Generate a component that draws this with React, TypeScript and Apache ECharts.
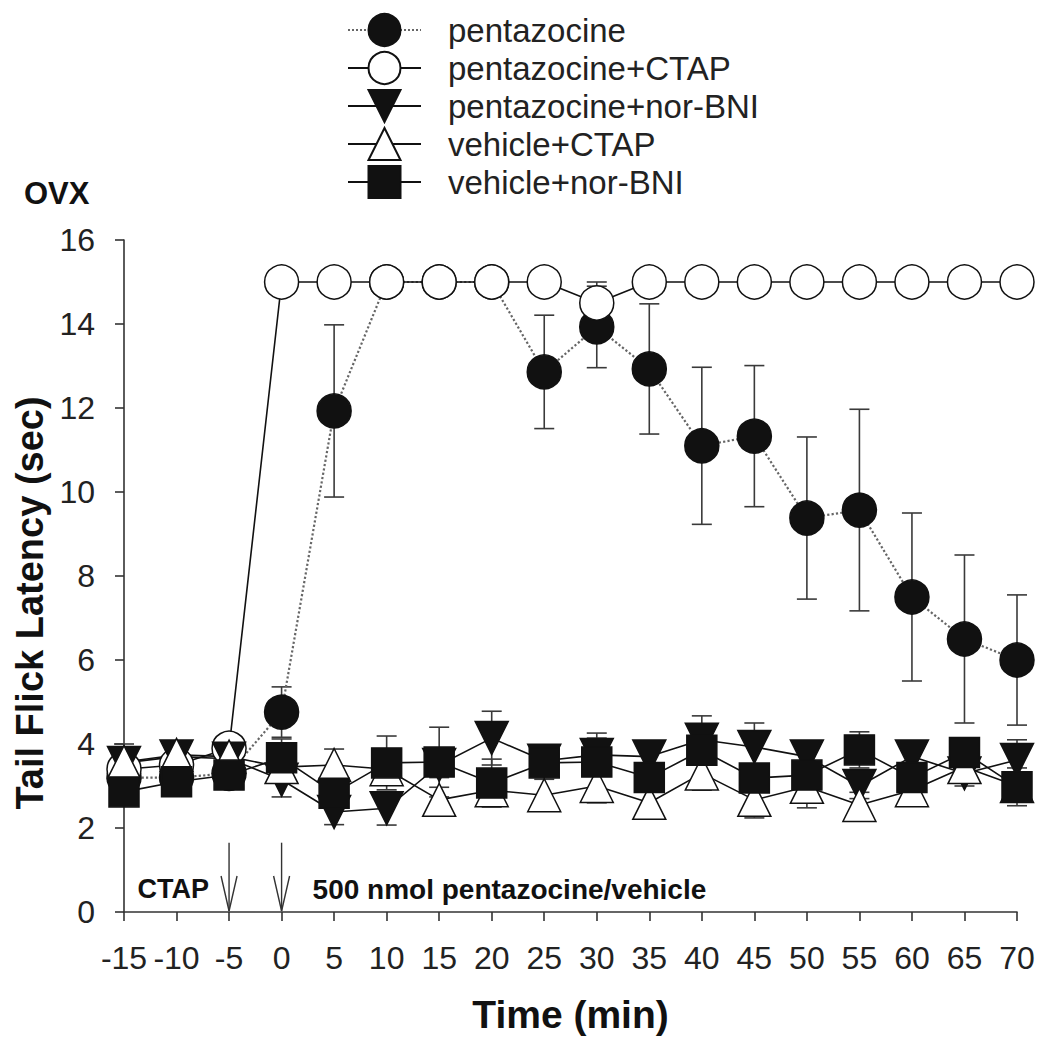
import React, { useEffect, useRef } from "react";
import * as echarts from "echarts";

const times = [-15, -10, -5, 0, 5, 10, 15, 20, 25, 30, 35, 40, 45, 50, 55, 60, 65, 70];

const pentazocine = [3.2, 3.2, 3.3, 4.76, 11.93, 15, 15, 15, 12.86, 13.93, 12.93, 11.1, 11.33, 9.38, 9.57, 7.5, 6.5, 6.0];
const pentazocineSem = [0.3, 0.3, 0.3, 0.6, 2.05, 0, 0, 0, 1.35, 0.97, 1.55, 1.87, 1.68, 1.93, 2.4, 2.0, 2.0, 1.55];

const pentazocineCtap = [3.4, 3.5, 3.9, 15, 15, 15, 15, 15, 15, 14.5, 15, 15, 15, 15, 15, 15, 15, 15];
const pentazocineCtapSem = [0, 0, 0, 0, 0, 0, 0, 0, 0, 0.5, 0, 0, 0, 0, 0, 0, 0, 0];

const pentazocineNorBni = [3.55, 3.7, 3.65, 3.15, 2.38, 2.47, 3.5, 4.14, 3.6, 3.74, 3.7, 4.1, 3.93, 3.7, 3.0, 3.7, 3.3, 3.62];
const pentazocineNorBniSem = [0.3, 0.3, 0.3, 0.41, 0.3, 0.4, 0.3, 0.64, 0.3, 0.4, 0.3, 0.57, 0.57, 0.3, 0.3, 0.3, 0.3, 0.48];

const vehicleCtap = [3.57, 3.74, 3.7, 3.45, 3.5, 3.4, 2.67, 2.9, 2.78, 3.0, 2.6, 3.3, 2.67, 2.98, 2.55, 2.9, 3.45, 3.0];
const vehicleCtapSem = [0.43, 0.3, 0.3, 0.3, 0.38, 0.3, 0.3, 0.3, 0.38, 0.4, 0.3, 0.4, 0.43, 0.5, 0.3, 0.3, 0.3, 0.3];

const vehicleNorBni = [2.86, 3.1, 3.26, 3.67, 2.83, 3.55, 3.57, 3.07, 3.55, 3.57, 3.2, 3.85, 3.19, 3.26, 3.86, 3.2, 3.8, 2.98];
const vehicleNorBniSem = [0.3, 0.3, 0.3, 0.45, 0.3, 0.64, 0.83, 0.57, 0.3, 0.69, 0.3, 0.3, 0.3, 0.3, 0.43, 0.3, 0.3, 0.45];

const seriesNames = ["pentazocine", "pentazocine+CTAP", "pentazocine+nor-BNI", "vehicle+CTAP", "vehicle+nor-BNI"];

const xMin = -15;
const xMax = 70;
const xInterval = 5;
const yMin = 0;
const yMax = 16;
const yInterval = 2;

const arrowTimes = [-5, 0];
const arrowTopValue = 1.65;

const FONT = '"Liberation Sans", Arial, Helvetica, sans-serif';
const INK = "#111";

function errData(vals: number[], sems: number[]) {
  const out: number[][] = [];
  times.forEach((t, i) => {
    if (sems[i] > 0) out.push([t, vals[i] - sems[i], vals[i] + sems[i]]);
  });
  return out;
}

function errSeries(vals: number[], sems: number[]) {
  return {
    type: "custom",
    data: errData(vals, sems),
    encode: { x: 0, y: [1, 2] },
    z: 1,
    silent: true,
    renderItem: (params: any, api: any) => {
      const x = api.value(0);
      const lo = api.coord([x, api.value(1)]);
      const hi = api.coord([x, api.value(2)]);
      const cap = 10;
      const style = { stroke: "#3a3a3a", lineWidth: 1.6 };
      return {
        type: "group",
        children: [
          { type: "line", shape: { x1: hi[0], y1: hi[1], x2: lo[0], y2: lo[1] }, style },
          { type: "line", shape: { x1: hi[0] - cap, y1: hi[1], x2: hi[0] + cap, y2: hi[1] }, style },
          { type: "line", shape: { x1: lo[0] - cap, y1: lo[1], x2: lo[0] + cap, y2: lo[1] }, style },
        ],
      };
    },
  };
}

function lineSeries(name: string, vals: number[], symbol: string, size: number, fill: string, rotate: number, lineType: string, lineColor: string, lineWidth: number) {
  return {
    type: "line",
    name,
    data: times.map((t, i) => [t, vals[i]]),
    symbol,
    symbolSize: size,
    symbolRotate: rotate,
    showAllSymbol: true,
    z: 3,
    lineStyle: { color: lineColor, width: lineWidth, type: lineType },
    itemStyle: { color: fill, borderColor: INK, borderWidth: 1.5, opacity: 1 },
    emphasis: { disabled: true },
  };
}

export default function App() {
  const ref = useRef<HTMLDivElement>(null);

  useEffect(() => {
    if (!ref.current) return;
    const chart = echarts.init(ref.current, undefined, { renderer: "svg" });
    const option: any = {
      animation: false,
      backgroundColor: "#ffffff",
      grid: { left: 124, right: 33, top: 240, bottom: 133 },
      legend: {
        data: seriesNames,
        orient: "vertical",
        left: 347,
        top: 13,
        padding: 0,
        itemWidth: 73,
        itemHeight: 40,
        itemGap: 4,
        selectedMode: false,
        textStyle: { fontFamily: FONT, fontSize: 33, color: "#222", padding: [0, 0, 0, 22] },
      },
      xAxis: {
        type: "value",
        min: xMin,
        max: xMax,
        interval: xInterval,
        name: "Time (min)",
        nameLocation: "middle",
        nameGap: 83,
        nameTextStyle: { fontFamily: FONT, fontSize: 39, fontWeight: "bold", color: INK },
        axisLine: { show: true, onZero: false, lineStyle: { color: "#333", width: 1.6 } },
        axisTick: { show: true, inside: false, length: 9, lineStyle: { color: "#333", width: 1.6 } },
        axisLabel: { fontFamily: FONT, fontSize: 32, color: "#222", margin: 30 },
        splitLine: { show: false },
      },
      yAxis: {
        type: "value",
        min: yMin,
        max: yMax,
        interval: yInterval,
        axisLine: { show: true, onZero: false, lineStyle: { color: "#333", width: 1.6 } },
        axisTick: { show: true, inside: false, length: 9, lineStyle: { color: "#333", width: 1.6 } },
        axisLabel: { fontFamily: FONT, fontSize: 32, color: "#222", margin: 29 },
        splitLine: { show: false },
      },
      series: [
        errSeries(pentazocine, pentazocineSem),
        errSeries(pentazocineCtap, pentazocineCtapSem),
        errSeries(pentazocineNorBni, pentazocineNorBniSem),
        errSeries(vehicleCtap, vehicleCtapSem),
        errSeries(vehicleNorBni, vehicleNorBniSem),
        lineSeries(seriesNames[0], pentazocine, "circle", 34, INK, 0, "dotted", "#666", 2.2),
        lineSeries(seriesNames[1], pentazocineCtap, "circle", 34, "#ffffff", 0, "solid", INK, 1.6),
        lineSeries(seriesNames[2], pentazocineNorBni, "triangle", 33, INK, 180, "solid", INK, 1.6),
        lineSeries(seriesNames[3], vehicleCtap, "triangle", 33, "#ffffff", 0, "solid", INK, 1.6),
        lineSeries(seriesNames[4], vehicleNorBni, "rect", 30, INK, 0, "solid", INK, 1.6),
      ],
    };
    chart.setOption(option);

    const arrows: any[] = [];
    const px = arrowTimes.map((t) => ({
      bottom: chart.convertToPixel({ gridIndex: 0 }, [t, 0]) as number[],
      top: chart.convertToPixel({ gridIndex: 0 }, [t, arrowTopValue]) as number[],
    }));
    px.forEach((p) => {
      const [bx, by] = p.bottom;
      const ty = p.top[1];
      const stroke = { stroke: "#333", lineWidth: 1.4, fill: null };
      arrows.push({ type: "line", shape: { x1: bx, y1: ty, x2: bx, y2: by - 1 }, style: stroke, z: 10 });
      arrows.push({
        type: "polyline",
        shape: { points: [[bx - 8, by - 36], [bx, by - 1], [bx + 8, by - 36]] },
        style: stroke,
        z: 10,
      });
    });
    const yBase = px[0].bottom[1];
    const graphic: any[] = [
      ...arrows,
      {
        type: "text",
        x: px[0].bottom[0] - 20,
        y: yBase - 23,
        style: { text: "CTAP", fontFamily: FONT, fontSize: 27, fontWeight: "bold", fill: INK, align: "right", verticalAlign: "middle" },
        z: 10,
      },
      {
        type: "text",
        x: px[1].bottom[0] + 31,
        y: yBase - 23,
        style: { text: "500 nmol pentazocine/vehicle", fontFamily: FONT, fontSize: 28, fontWeight: "bold", fill: INK, align: "left", verticalAlign: "middle" },
        z: 10,
      },
      {
        type: "text",
        x: 24,
        y: 193,
        style: { text: "OVX", fontFamily: FONT, fontSize: 31, fontWeight: "bold", fill: INK, align: "left", verticalAlign: "middle" },
        z: 10,
      },
      {
        type: "text",
        x: 30,
        y: 603,
        rotation: Math.PI / 2,
        style: { text: "Tail Flick Latency (sec)", fontFamily: FONT, fontSize: 38, fontWeight: "bold", fill: INK, align: "center", verticalAlign: "middle" },
        z: 10,
      },
    ];
    chart.setOption({ graphic });

    return () => chart.dispose();
  }, []);

  return <div ref={ref} style={{ position: "fixed", left: 0, top: 0, width: 1050, height: 1045 }} />;
}
